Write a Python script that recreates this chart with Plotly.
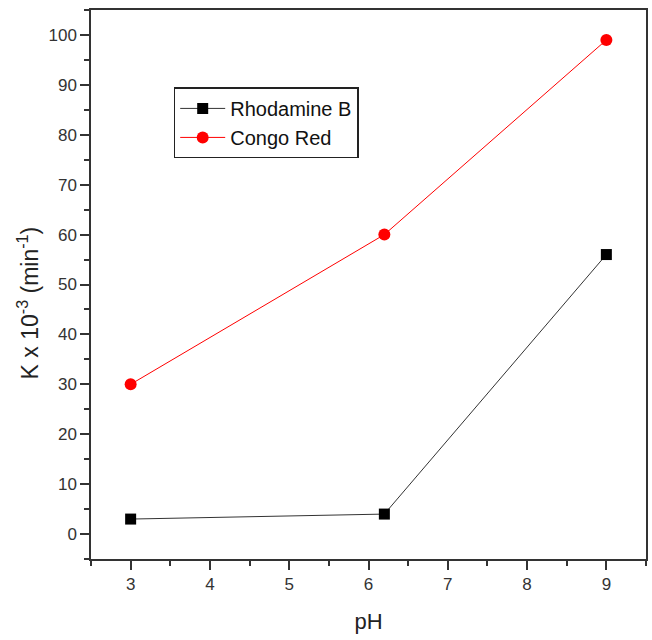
import plotly.graph_objects as go

ph = [3, 6.2, 9]
rhodamine_b = [3, 4, 56]
congo_red = [30, 60, 99]
x_ticks = [3, 4, 5, 6, 7, 8, 9]
y_ticks = [0, 10, 20, 30, 40, 50, 60, 70, 80, 90, 100]

fig = go.Figure()
fig.add_trace(go.Scatter(
    x=ph, y=rhodamine_b, mode="lines+markers", name="Rhodamine B",
    line=dict(color="#333333", width=1),
    marker=dict(symbol="square", size=11, color="black"),
))
fig.add_trace(go.Scatter(
    x=ph, y=congo_red, mode="lines+markers", name="Congo Red",
    line=dict(color="red", width=1),
    marker=dict(symbol="circle", size=12, color="red"),
))

axis_font = dict(family="Liberation Sans, Arial, sans-serif", size=17, color="#333333")
fig.update_layout(
    width=652, height=640,
    margin=dict(l=91, r=4, t=10, b=81),
    paper_bgcolor="white", plot_bgcolor="white",
    font=dict(family="Liberation Sans, Arial, sans-serif", color="#222222"),
    legend=dict(
        x=0.149, y=0.859, xanchor="left", yanchor="top",
        bordercolor="#222222", borderwidth=1.5, bgcolor="white",
        font=dict(size=20, color="#111111"),
        itemwidth=45, tracegroupgap=0,
    ),
    showlegend=True,
)
fig.add_annotation(
    text="K x 10<sup>-3</sup> (min<sup>-1</sup>)", textangle=-90,
    xref="paper", yref="paper", x=-0.113, y=0.466,
    xanchor="center", yanchor="middle", showarrow=False,
    font=dict(size=23, color="#222222"),
)
fig.update_xaxes(
    range=[2.5, 9.5], tickvals=x_ticks, ticktext=[str(v) for v in x_ticks],
    ticks="outside", ticklen=9, tickwidth=1.5, tickcolor="#333333",
    showline=True, linecolor="#333333", linewidth=1.5, mirror=True,
    showgrid=False, zeroline=False, tickfont=axis_font,
    minor=dict(tickvals=[2.5, 3.5, 4.5, 5.5, 6.5, 7.5, 8.5, 9.5], ticks="outside",
               ticklen=5, tickwidth=1.5, tickcolor="#333333", showgrid=False),
    title=dict(text="pH", font=dict(size=22, color="#222222"), standoff=20),
)
fig.update_yaxes(
    range=[-5, 105], tickvals=y_ticks, ticktext=[str(v) for v in y_ticks],
    ticks="outside", ticklen=9, tickwidth=1.5, tickcolor="#333333",
    showline=True, linecolor="#333333", linewidth=1.5, mirror=True,
    showgrid=False, zeroline=False, tickfont=axis_font,
    minor=dict(tickvals=[-5, 5, 15, 25, 35, 45, 55, 65, 75, 85, 95, 105], ticks="outside",
               ticklen=5, tickwidth=1.5, tickcolor="#333333", showgrid=False),
)

fig.write_html("out.html")
